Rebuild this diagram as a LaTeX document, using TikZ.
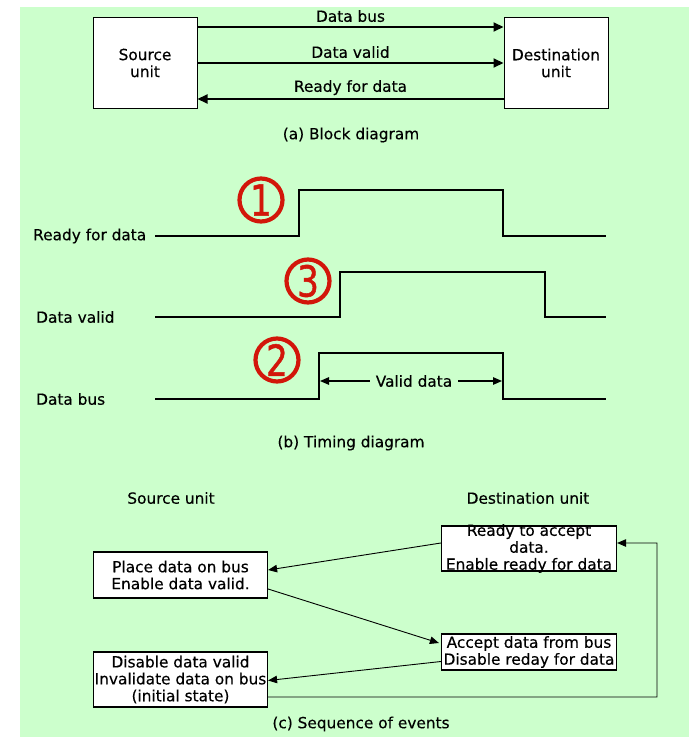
\documentclass[tikz,border=0pt]{standalone}
\usepackage{fontspec}
\setmainfont{DejaVu Sans}[FakeBold=0.35]
\newfontfamily\digitfont{DejaVu Sans}[FakeBold=1.2]
\usetikzlibrary{arrows.meta,calc}
\definecolor{panel}{RGB}{204,255,204}
\definecolor{mark}{RGB}{210,22,10}
\begin{document}
\begin{tikzpicture}[x=1bp,y=-1bp,
  txt/.style={font=\fontsize{15.4}{17}\selectfont, inner sep=0pt, align=center},
  unitbox/.style={draw, fill=white, line width=1bp, minimum width=104bp, minimum height=91bp,
    font=\fontsize{15.4}{17}\selectfont, align=center, inner sep=0pt},
  bus/.style={line width=2bp, -{Triangle[length=10bp,width=9bp]}},
  wave/.style={line width=2bp, line join=miter},
  evbox/.style={draw, fill=white, line width=1.2bp, inner sep=0pt},
  link/.style={line width=0.9bp, -{Triangle[length=9bp,width=7.5bp]}},
  step mark/.style={circle, draw=mark, line width=4.2bp, minimum size=43bp, inner sep=0pt,
    text=mark, font=\digitfont\fontsize{43}{43}\selectfont}]
\useasboundingbox (0,0) rectangle (689,737);
\fill[panel] (20,7) rectangle (689,737);

% (a) block diagram
\node[unitbox] (src) at (145,63) {Source\\unit};
\node[unitbox] (dst) at (556,63) {Destination\\unit};
\draw[bus] ($(src.east)+(0,-36)$) -- node[txt, above=4bp] (lbus) {Data bus} ($(dst.west)+(0,-36)$);
\draw[bus] ($(src.east)+(0,0)$) -- node[txt, above=4bp] (lvalid) {Data valid} ($(dst.west)+(0,0)$);
\draw[bus] ($(dst.west)+(0,36)$) -- node[txt, above=3bp] (lready) {Ready for data} ($(src.east)+(0,36)$);
\node[txt] (capa) at (351,135) {(a) Block diagram};

% (b) timing diagram
\node[txt, anchor=west] (trdy) at (33,236) {Ready for data};
\node[txt, anchor=west] (tval) at (36,317) {Data valid};
\node[txt, anchor=west] (tbus) at (36,399) {Data bus};
\draw[wave] (155,236) -- (299,236) -- (299,190) -- (503,190) -- (503,236) -- (606,236);
\draw[wave] (155,317) -- (340,317) -- (340,272) -- (545,272) -- (545,317) -- (606,317);
\draw[wave] (155,399) -- (319,399) -- (319,353) -- (503,353) -- (503,399) -- (606,399);
\coordinate (vl) at (320,381);
\coordinate (vr) at (502,381);
\node[txt, inner xsep=6bp] (vd) at (414,381) {Valid data};
\draw[link, line width=1.2bp] (vd.west) -- (vl);
\draw[link, line width=1.2bp] (vd.east) -- (vr);
\node[step mark] (m1) at (261,200) {\scalebox{0.8}[1]{1}};
\node[step mark] (m3) at (308,281) {\scalebox{0.8}[1]{3}};
\node[step mark] (m2) at (277,360) {\scalebox{0.8}[1]{2}};
\node[txt] (capb) at (351,443) {(b) Timing diagram};

% (c) sequence of events
\node[txt] (hsrc) at (171,498) {Source unit};
\node[txt] (hdst) at (528,498) {Destination unit};
\node[evbox, minimum width=175bp, minimum height=45bp] (A) at (529,548.5) {};
\node[txt] (At) at (A) {Ready to accept\\data.\\Enable ready for data};
\node[evbox, minimum width=174bp, minimum height=46bp] (B) at (180.5,575) {};
\node[txt] (Bt) at (B) {Place data on bus\\Enable data valid.};
\node[evbox, minimum width=175bp, minimum height=36bp] (C) at (529,652) {};
\node[txt] (Ct) at (C) {Accept data from bus\\Disable reday for data};
\node[evbox, minimum width=174bp, minimum height=55bp] (D) at (180.5,679.5) {};
\node[txt] (Dt) at (D) {Disable data valid\\Invalidate data on bus\\(initial state)};
\coordinate (ret) at (657,697);
\draw[link] ($(A.west)+(0,-5.5)$) -- ($(B.east)+(0,-5)$);
\draw[link] ($(B.east)+(0,14)$) -- ($(C.west)+(-2,-9)$);
\draw[link] ($(C.west)+(0,9.5)$) -- ($(D.east)+(0,1)$);
\draw[link] ($(D.east)+(0,17.5)$) -- (ret) |- ($(A.east)+(0,-5.5)$);
\node[txt] (capc) at (361,724) {(c) Sequence of events};
\end{tikzpicture}
\end{document}
